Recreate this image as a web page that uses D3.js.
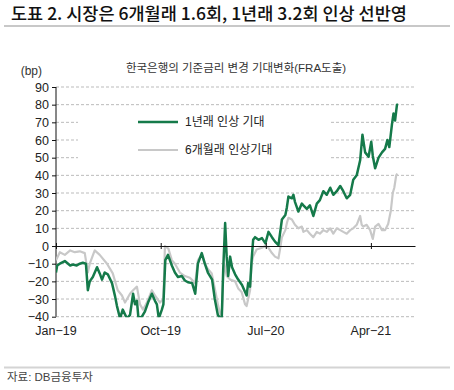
<!DOCTYPE html>
<html>
<head>
<meta charset="utf-8">
<script src="https://cdn.jsdelivr.net/npm/d3@7"></script>
<style>
  body { margin: 0; background: #fff; }
  svg { display: block; font-family: "Liberation Sans", "Noto Sans CJK KR", sans-serif; }
</style>
</head>
<body>
<svg id="chart" width="454" height="390"></svg>
<script>
// 1년래 인상 기대 (bp)
const oneYearDates = [
  "2019-01-01","2019-01-04","2019-01-11","2019-01-24","2019-02-07","2019-02-14","2019-02-24","2019-03-04","2019-03-12","2019-03-20",
  "2019-03-25","2019-03-30","2019-04-07","2019-04-18","2019-04-25","2019-05-01","2019-05-08","2019-05-16","2019-05-27","2019-06-04",
  "2019-06-09","2019-06-17","2019-06-24","2019-07-05","2019-07-13","2019-07-21","2019-07-26","2019-07-31","2019-08-04","2019-08-13",
  "2019-08-21","2019-08-29","2019-09-08","2019-09-16","2019-09-21","2019-09-26","2019-10-04","2019-10-08","2019-10-13","2019-10-20",
  "2019-10-30","2019-11-07","2019-11-15","2019-11-25","2019-12-03","2019-12-11","2019-12-22","2019-12-30","2020-01-06","2020-01-16",
  "2020-01-24","2020-02-01","2020-02-12","2020-02-19","2020-02-27","2020-03-08","2020-03-12","2020-03-17","2020-03-21","2020-03-25",
  "2020-03-30","2020-04-04","2020-04-12","2020-04-20","2020-04-30","2020-05-08","2020-05-12","2020-05-16","2020-05-21","2020-05-25",
  "2020-05-29","2020-06-03","2020-06-12","2020-06-21","2020-06-30","2020-07-08","2020-07-17","2020-07-25","2020-08-03","2020-08-07",
  "2020-08-12","2020-08-21","2020-08-25","2020-08-29","2020-09-07","2020-09-11","2020-09-15","2020-09-24","2020-10-03","2020-10-07",
  "2020-10-16","2020-10-24","2020-11-02","2020-11-11","2020-11-19","2020-11-28","2020-12-07","2020-12-16","2020-12-24","2021-01-02",
  "2021-01-11","2021-01-19","2021-01-28","2021-02-06","2021-02-14","2021-02-23","2021-03-04","2021-03-10","2021-03-17","2021-03-26",
  "2021-04-02","2021-04-06","2021-04-12","2021-04-21","2021-04-30","2021-05-08","2021-05-14","2021-05-19","2021-05-26","2021-05-30",
  "2021-06-03","2021-06-08","2021-06-11"
];
const oneYearValues = [
  -15,-11,-10,-8.5,-11,-10.5,-11,-10,-9.5,-10,
  -25,-20,-17.5,-12,-15.5,-19,-15,-16,-21,-28.5,
  -34,-41,-36,-41,-39,-27,-33,-31,-41,-40,
  -37,-32,-27,-31,-33,-41,-36,-33,-8,-5,
  -11,-15,-17.5,-17,-19.5,-20.5,-21,-27,-10,-4,
  -10,-15,-19,-30,-39,-42,-13,13,-6,-17,
  -6,-12,-16,-19,-22,-26,-28,-21,-23,-8,
  3.5,5,3.5,4.5,1.5,8,5,2.5,0.5,7,
  15,17.5,22,28,27,29,25,19.5,24,23,
  21,23,17,24,26,31,29,33,29,31,
  34,31,27,29,37.5,40,48.5,63,53,50.5,
  59,51,44,50,53,55,60,56,69,75,
  71,80,80
];

// 6개월래 인상기대 (bp)
const sixMonthDates = [
  "2019-01-01","2019-01-11","2019-01-24","2019-02-07","2019-02-19","2019-03-04","2019-03-17","2019-03-25","2019-03-30","2019-04-12",
  "2019-04-25","2019-05-14","2019-05-29","2019-06-11","2019-06-22","2019-06-30","2019-07-13","2019-07-21","2019-07-31","2019-08-08",
  "2019-08-16","2019-08-26","2019-09-08","2019-09-16","2019-09-29","2019-10-08","2019-10-12","2019-10-21","2019-10-30","2019-11-07",
  "2019-11-20","2019-12-03","2019-12-16","2019-12-30","2020-01-06","2020-01-16","2020-01-24","2020-02-01","2020-02-11","2020-02-19",
  "2020-02-28","2020-03-08","2020-03-12","2020-03-15","2020-03-21","2020-03-30","2020-04-12","2020-04-20","2020-04-29","2020-05-08",
  "2020-05-12","2020-05-21","2020-05-25","2020-05-29","2020-06-07","2020-06-21","2020-06-30","2020-07-08","2020-07-17","2020-07-25",
  "2020-08-03","2020-08-07","2020-08-12","2020-08-21","2020-08-25","2020-08-29","2020-09-07","2020-09-15","2020-09-24","2020-10-03",
  "2020-10-07","2020-10-16","2020-10-24","2020-11-02","2020-11-11","2020-11-19","2020-11-28","2020-12-07","2020-12-16","2020-12-24",
  "2021-01-02","2021-01-11","2021-01-19","2021-01-28","2021-02-06","2021-02-14","2021-02-23","2021-03-04","2021-03-08","2021-03-12",
  "2021-03-21","2021-03-30","2021-04-06","2021-04-12","2021-04-21","2021-04-30","2021-05-08","2021-05-16","2021-05-23","2021-05-28",
  "2021-06-01","2021-06-06","2021-06-09"
];
const sixMonthValues = [
  -8,-3.5,-5,-2.5,-3.5,-3,-4,-15,-10,-2.5,
  -5,-10,-15.5,-25,-28,-32,-27,-25,-23,-33,
  -36,-32,-25,-28,-32,-30,0,-1.5,-8,-10,
  -15,-17,-18,-21,-8,-5,-10,-13,-15.5,-24,
  -34,-41,-17,-10,-17,-19,-20,-24,-26,-33,
  -34,-25,-10,-6,-2,-1,0,-1,-4,-6,
  -7,-2,5,9,13,16,15,12,10,11,
  8,9,7,5,8,7,9,8,10,7,
  10,9,8,7,9,10,12,17,12,11,
  12,9,4,11,12.5,9,9,12.5,20,30,
  33,40,41
];

const yTicks = [90, 80, 70, 60, 50, 40, 30, 20, 10, 0, -10, -20, -30, -40];
const xTickDates = ["2019-01-01", "2019-10-01", "2020-07-01", "2021-04-01"];
const xTickLabels = ["Jan\u221219", "Oct\u221219", "Jul\u221220", "Apr\u221221"];
const seriesNames = ["1년래 인상 기대", "6개월래 인상기대"];
const seriesColors = ["#157a4a", "#c8c8c8"];

const parse = d3.timeParse("%Y-%m-%d");
const svg = d3.select("#chart");

const margin = { left: 56, right: 415, top: 87, bottom: 316.7 };
const x = d3.scaleTime()
  .domain([parse("2019-01-01"), parse("2021-07-25")])
  .range([margin.left, margin.right]);
const y = d3.scaleLinear().domain([-40, 90]).range([margin.bottom, margin.top]);

// header
svg.append("text").attr("x", 11).attr("y", 19.5)
  .attr("font-family", "Noto Sans CJK KR").attr("font-size", 17.5).attr("font-weight", 500)
  .attr("fill", "#111").text("도표 2. 시장은 6개월래 1.6회, 1년래 3.2회 인상 선반영");
svg.append("rect").attr("x", 4).attr("y", 25).attr("width", 446).attr("height", 2).attr("fill", "#c8c8c8");

svg.append("text").attr("x", 236).attr("y", 71.5).attr("text-anchor", "middle")
  .attr("font-size", 11.5).attr("fill", "#333").text("한국은행의 기준금리 변경 기대변화(FRA도출)");

svg.append("text").attr("x", 42).attr("y", 75).attr("text-anchor", "end")
  .attr("font-size", 12).attr("fill", "#333").text("(bp)");

// gridlines
svg.append("g").selectAll("line").data(yTicks.filter(d => d !== 0)).enter().append("line")
  .attr("x1", margin.left).attr("x2", margin.right)
  .attr("y1", d => y(d)).attr("y2", d => y(d))
  .attr("stroke", "#bbbbbb").attr("stroke-width", 1).attr("stroke-dasharray", "3,2");

// y axis
const yAxis = svg.append("g").attr("transform", `translate(${margin.left},0)`)
  .call(d3.axisLeft(y).tickValues(yTicks).tickSize(4).tickPadding(3)
    .tickFormat(d => d < 0 ? "\u2212" + Math.abs(d) : d));
yAxis.select(".domain").attr("stroke", "#111").attr("d", `M0,${y(90)}V${y(-40)}`);
yAxis.selectAll(".tick line").attr("stroke", "#111");
yAxis.selectAll("text").attr("font-size", 12.5).attr("fill", "#222")
  .attr("font-family", "Liberation Sans");

// series
svg.append("clipPath").attr("id", "plot").append("rect")
  .attr("x", margin.left).attr("y", margin.top - 2)
  .attr("width", margin.right - margin.left).attr("height", y(-40) - margin.top + 2.5);

const line = d3.line().x(d => x(d[0])).y(d => y(d[1]));
const sixData = sixMonthDates.map((d, i) => [parse(d), sixMonthValues[i]]);
const oneData = oneYearDates.map((d, i) => [parse(d), oneYearValues[i]]);

const plot = svg.append("g").attr("clip-path", "url(#plot)");
plot.append("path").datum(sixData).attr("d", line)
  .attr("fill", "none").attr("stroke", seriesColors[1]).attr("stroke-width", 2.2).attr("stroke-linejoin", "round");
plot.append("path").datum(oneData).attr("d", line)
  .attr("fill", "none").attr("stroke", seriesColors[0]).attr("stroke-width", 2.5).attr("stroke-linejoin", "round");

// zero line with date ticks
const xAxis = svg.append("g").attr("transform", `translate(0,${y(0)})`)
  .call(d3.axisBottom(x).tickValues(xTickDates.map(parse)).tickSize(0).tickFormat(""));
xAxis.select(".domain").attr("stroke", "#111").attr("stroke-width", 1.2);
xAxis.selectAll(".tick line").attr("y1", -3).attr("y2", 3).attr("stroke", "#111");

svg.append("g").selectAll("text").data(xTickDates).enter().append("text")
  .attr("x", d => x(parse(d))).attr("y", 335).attr("text-anchor", "middle")
  .attr("font-size", 12.5).attr("fill", "#222")
  .text((d, i) => xTickLabels[i]);

// legend
svg.append("rect").attr("x", 78).attr("y", 108).attr("width", 253).attr("height", 62).attr("fill", "#fff");
const legend = svg.append("g").selectAll("g").data(seriesNames).enter().append("g")
  .attr("transform", (d, i) => `translate(138,${122 + i * 28})`);
legend.append("line").attr("x1", 0).attr("x2", 40)
  .attr("stroke", (d, i) => seriesColors[i]).attr("stroke-width", (d, i) => i === 0 ? 2.6 : 2.2);
legend.append("text").attr("x", 47).attr("dy", "0.36em")
  .attr("font-size", 12).attr("fill", "#222").text(d => d);

// footer
svg.append("rect").attr("x", 4).attr("y", 366.5).attr("width", 446).attr("height", 2).attr("fill", "#d4d4d4");
svg.append("text").attr("x", 7).attr("y", 381)
  .attr("font-size", 11.5).attr("fill", "#444").text("자료: DB금융투자");
</script>
</body>
</html>
